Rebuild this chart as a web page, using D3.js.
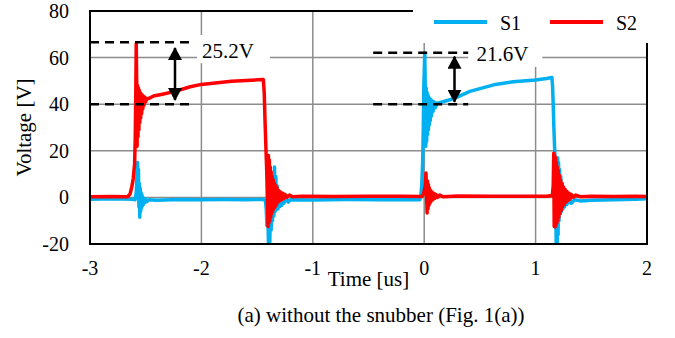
<!DOCTYPE html>
<html>
<head>
<meta charset="utf-8">
<script src="https://cdn.jsdelivr.net/npm/d3@7"></script>
<style>
  body { margin: 0; background: #fff; }
  svg text { font-family: "Times New Roman", "Liberation Serif", "DejaVu Serif", serif; fill: #000; }
</style>
</head>
<body>
<svg id="chart" width="675" height="338"></svg>
<script>
// axis ticks
const xTicks = [-3, -2, -1, 0, 1, 2]
const yTicks = [-20, 0, 20, 40, 60, 80]
const xGrid = [-2, -1, 0, 1]
const yGrid = [0, 20, 40, 60]

// S1 trace, [time us, voltage V]
const s1 = [
  [-3, -0.8], [-2.8, -0.6], [-2.62, -0.8], [-2.595, -1],
  [-2.585, 2], [-2.578, 10], [-2.573, 15], [-2.569, 8], [-2.565, 12], [-2.561, -4],
  [-2.557, 6], [-2.553, -8.5], [-2.549, 4], [-2.545, -6], [-2.541, 2], [-2.537, -4.5],
  [-2.533, 1], [-2.529, -3.5], [-2.525, 0], [-2.52, -3], [-2.515, -0.5], [-2.51, -2.3],
  [-2.5, -0.8], [-2.49, -1.8], [-2.47, -1], [-2.4, -1.2], [-2.2, -0.9], [-2.0, -1],
  [-1.8, -0.9], [-1.6, -1], [-1.45, -0.9], [-1.425, -1.2],
  [-1.418, -5], [-1.412, -12], [-1.405, -3], [-1.398, -20], [-1.392, -8], [-1.386, -19],
  [-1.38, -4], [-1.374, -14], [-1.368, 2], [-1.362, -10], [-1.356, 8], [-1.35, -8],
  [-1.344, 13], [-1.338, -6], [-1.332, 9], [-1.326, -5], [-1.32, 5], [-1.313, -5],
  [-1.306, 3], [-1.299, -4], [-1.29, 1], [-1.28, -3.5], [-1.27, 0], [-1.26, -2.5],
  [-1.24, -0.5], [-1.22, -2], [-1.2, -1], [-1.0, -1.1], [-0.7, -0.9], [-0.4, -1],
  [-0.1, -0.9], [-0.04, -1],
  [-0.03, 1], [-0.022, 5], [-0.014, 15], [-0.008, 30], [-0.003, 48], [0.005, 62],
  [0.01, 45], [0.014, 22], [0.018, 47], [0.022, 24], [0.026, 45], [0.03, 27],
  [0.034, 44], [0.038, 29], [0.042, 43], [0.046, 31], [0.05, 42.5], [0.055, 33],
  [0.06, 42], [0.066, 35], [0.072, 41.5], [0.08, 37], [0.09, 41], [0.1, 38.5],
  [0.115, 40.5], [0.13, 40.5], [0.2, 41.5], [0.27, 42.5], [0.41, 45.5], [0.64, 48.5],
  [0.8, 49.6], [1.0, 50.4], [1.1, 51], [1.146, 51.5],
  [1.152, 48], [1.158, 40], [1.164, 30], [1.17, 22], [1.176, 15], [1.18, 0],
  [1.185, -20], [1.19, -12], [1.194, -20], [1.198, 17], [1.202, -16], [1.206, 15],
  [1.21, -10], [1.215, 12], [1.22, -7], [1.226, 9], [1.232, -6], [1.238, 6],
  [1.245, -5], [1.252, 3], [1.26, -4], [1.27, 1], [1.28, -3], [1.3, -1],
  [1.32, -2.5], [1.35, -1], [1.4, -1.5], [1.5, -1.2], [1.7, -1], [1.9, -0.8], [2.0, -0.6]
]

// S2 trace
const s2 = [
  [-3, 0.3], [-2.8, 0.4], [-2.66, 0.3], [-2.64, 1.5], [-2.625, 4.5], [-2.612, 8],
  [-2.6, 14], [-2.594, 25], [-2.589, 45], [-2.585, 66],
  [-2.581, 50], [-2.577, 22], [-2.573, 48], [-2.569, 26], [-2.565, 47], [-2.561, 29],
  [-2.557, 46], [-2.553, 32], [-2.549, 45], [-2.545, 34], [-2.541, 44.5], [-2.536, 36],
  [-2.531, 44], [-2.526, 38], [-2.521, 43.5], [-2.515, 39.5], [-2.508, 43], [-2.5, 41],
  [-2.49, 42.5], [-2.47, 42.5], [-2.43, 43.5], [-2.35, 44.3], [-2.237, 45.5],
  [-2.1, 47.5], [-2.0, 48.5], [-1.73, 49.8], [-1.45, 50.6],
  [-1.444, 50.5], [-1.436, 45], [-1.429, 33], [-1.42, 20], [-1.414, 12], [-1.408, 0],
  [-1.402, -12.5], [-1.398, 18], [-1.394, -11], [-1.39, 16], [-1.386, -10], [-1.382, 13],
  [-1.378, -8.5], [-1.374, 11], [-1.37, -7], [-1.365, 9], [-1.36, -6], [-1.355, 7.5],
  [-1.35, -5], [-1.344, 6], [-1.338, -4], [-1.332, 5], [-1.326, -3], [-1.32, 4],
  [-1.313, -2], [-1.306, 3], [-1.298, -1.5], [-1.29, 2.3], [-1.28, -1], [-1.27, 1.8],
  [-1.26, -0.5], [-1.25, 1.3], [-1.23, 0], [-1.21, 1], [-1.18, 0.3], [-1.1, 0.5],
  [-0.8, 0.4], [-0.5, 0.5], [-0.2, 0.5], [-0.02, 0.4],
  [-0.005, 1.5], [0.008, 5], [0.016, 10.5], [0.021, 2], [0.026, -6.7], [0.03, 7],
  [0.034, -5], [0.038, 5.5], [0.042, -3.5], [0.047, 4], [0.052, -2.5], [0.058, 3],
  [0.064, -1.5], [0.07, 2.3], [0.077, -1], [0.085, 1.8], [0.095, -0.5], [0.105, 1.3],
  [0.12, 0], [0.14, 1], [0.17, 0.3], [0.3, 0.6], [0.6, 0.5], [0.9, 0.5], [1.1, 0.5],
  [1.15, 0.8],
  [1.158, 5], [1.163, 19], [1.167, -12.5], [1.171, 18], [1.175, -12.7], [1.179, 17],
  [1.183, -12], [1.187, 15], [1.191, -11], [1.195, 13], [1.199, -10], [1.204, 11.5],
  [1.209, -8.5], [1.214, 9.5], [1.219, -7], [1.225, 7.5], [1.231, -5.5], [1.237, 6],
  [1.243, -4], [1.25, 4.5], [1.257, -3], [1.265, 3.5], [1.273, -2], [1.282, 2.5],
  [1.291, -1.3], [1.3, 1.8], [1.31, -0.7], [1.32, 1.3], [1.34, 0], [1.36, 1],
  [1.4, 0.3], [1.5, 0.5], [1.7, 0.4], [1.9, 0.5], [2.0, 0.4]
]

const seriesNames = ['S1', 'S2']
const seriesColors = ['#00b0f0', '#ff0000']

// overshoot annotations in data units
const overshoots = [
  { label: '25.2V', peak: 66.6, base: 40, from: -3, to: -2.075, arrowT: -2.237, top: 64.1, bottom: 41.8, textT: -1.995, textV: 59.8, box: [-2.04, -1.384, 69.7, 57.6] },
  { label: '21.6V', peak: 62.1, base: 40, from: -0.458, to: 0.395, arrowT: 0.272, top: 60.4, bottom: 41, textT: 0.47, textV: 58.5, box: [0.395, 1.06, 66.3, 56] }
]

const W = 675, H = 338
const m = { left: 90, right: 28, top: 11, bottom: 94 }
const iw = W - m.left - m.right
const ih = H - m.top - m.bottom

const svg = d3.select('#chart')
const x = d3.scaleLinear().domain([-3, 2]).range([m.left, m.left + iw])
const y = d3.scaleLinear().domain([-20, 80]).range([m.top + ih, m.top])

svg.append('defs').append('clipPath').attr('id', 'plot')
  .append('rect').attr('x', m.left).attr('y', m.top).attr('width', iw).attr('height', ih)

svg.select('defs').append('marker')
  .attr('id', 'head')
  .attr('viewBox', '0 0 13 14')
  .attr('refX', 12).attr('refY', 7)
  .attr('markerWidth', 13).attr('markerHeight', 14)
  .attr('markerUnits', 'userSpaceOnUse')
  .attr('orient', 'auto-start-reverse')
  .append('path').attr('d', 'M0,0L13,7L0,14Z').attr('fill', '#000')

// grid
svg.append('g').selectAll('line').data(xGrid).join('line')
  .attr('x1', d => x(d)).attr('x2', d => x(d))
  .attr('y1', m.top).attr('y2', m.top + ih)
  .attr('stroke', '#8c8c8c').attr('stroke-width', 1.5)
svg.append('g').selectAll('line').data(yGrid).join('line')
  .attr('x1', m.left).attr('x2', m.left + iw)
  .attr('y1', d => y(d)).attr('y2', d => y(d))
  .attr('stroke', '#8c8c8c').attr('stroke-width', 1.5)

// white text boxes behind annotation labels
svg.append('g').selectAll('rect').data(overshoots).join('rect')
  .attr('x', d => x(d.box[0])).attr('y', d => y(d.box[2]))
  .attr('width', d => x(d.box[1]) - x(d.box[0]))
  .attr('height', d => y(d.box[3]) - y(d.box[2]))
  .attr('fill', '#fff')

// traces
const line = d3.line().x(d => x(d[0])).y(d => y(d[1]))
const traces = svg.append('g').attr('clip-path', 'url(#plot)')
;[s1, s2].forEach((s, i) => {
  traces.append('path')
    .attr('d', line(s))
    .attr('fill', 'none')
    .attr('stroke', seriesColors[i])
    .attr('stroke-width', 3.5)
    .attr('stroke-linejoin', 'round')
})

// plot border
svg.append('rect')
  .attr('x', m.left).attr('y', m.top).attr('width', iw).attr('height', ih)
  .attr('fill', 'none').attr('stroke', '#000').attr('stroke-width', 2)

// annotations
const ann = svg.append('g')
overshoots.forEach(d => {
  ;[d.peak, d.base].forEach(v => {
    ann.append('line')
      .attr('x1', x(d.from)).attr('x2', x(d.to))
      .attr('y1', y(v)).attr('y2', y(v))
      .attr('stroke', '#000').attr('stroke-width', 2.5)
      .attr('stroke-dasharray', '9,6')
  })
  ann.append('line')
    .attr('x1', x(d.arrowT)).attr('x2', x(d.arrowT))
    .attr('y1', y(d.top)).attr('y2', y(d.bottom))
    .attr('stroke', '#000').attr('stroke-width', 2.5)
    .attr('marker-start', 'url(#head)').attr('marker-end', 'url(#head)')
  ann.append('text')
    .attr('x', x(d.textT)).attr('y', y(d.textV))
    .style('font-size', '21px')
    .text(d.label)
})

// legend (white box covers the top-right corner of the frame)
const lg = svg.append('g')
lg.append('rect').attr('x', 413).attr('y', 0).attr('width', 240).attr('height', 43).attr('fill', '#fff')
seriesNames.forEach((name, i) => {
  const lx = 434 + i * 116
  lg.append('line')
    .attr('x1', lx).attr('x2', lx + 53).attr('y1', 22).attr('y2', 22)
    .attr('stroke', seriesColors[i]).attr('stroke-width', 4)
  lg.append('text').attr('x', lx + 66).attr('y', 30)
    .style('font-size', '20px').text(name)
})

// tick labels
svg.append('g').selectAll('text').data(yTicks).join('text')
  .attr('x', 69).attr('y', d => y(d)).attr('dy', '0.35em')
  .attr('text-anchor', 'end').style('font-size', '20px')
  .text(d => d)
svg.append('g').selectAll('text').data(xTicks).join('text')
  .attr('x', d => x(d)).attr('y', 275)
  .attr('text-anchor', 'middle').style('font-size', '20px')
  .text(d => d)

// axis titles and caption
svg.append('text')
  .attr('transform', `translate(31,${m.top + ih / 2}) rotate(-90)`)
  .attr('text-anchor', 'middle').style('font-size', '21px')
  .text('Voltage [V]')
svg.append('text')
  .attr('x', m.left + iw / 2).attr('y', 286)
  .attr('text-anchor', 'middle').style('font-size', '21px')
  .text('Time [us]')
svg.append('text')
  .attr('x', 381).attr('y', 322)
  .attr('text-anchor', 'middle').style('font-size', '21px')
  .text('(a) without the snubber (Fig. 1(a))')
</script>
</body>
</html>
